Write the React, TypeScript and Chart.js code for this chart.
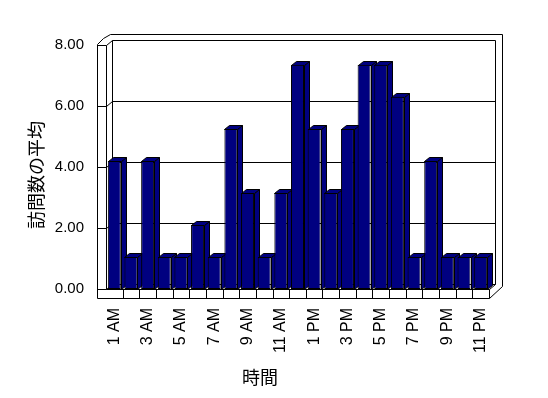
import React, { useEffect, useRef } from 'react';
import { Chart, registerables } from 'chart.js';

Chart.register(...registerables);

const hours = [
  '1 AM', '2 AM', '3 AM', '4 AM', '5 AM', '6 AM', '7 AM', '8 AM', '9 AM', '10 AM', '11 AM',
  '12 PM', '1 PM', '2 PM', '3 PM', '4 PM', '5 PM', '6 PM', '7 PM', '8 PM', '9 PM', '10 PM', '11 PM',
];
const avgVisits = [
  4.2, 1.05, 4.2, 1.05, 1.05, 2.1, 1.05, 5.25, 3.15, 1.05, 3.15,
  7.35, 5.25, 3.15, 5.25, 7.35, 7.35, 6.3, 1.05, 4.2, 1.05, 1.05, 1.05,
];
const yTicks = [0, 2, 4, 6, 8];
const yTitle = '訪問数の平均';
const xTitle = '時間';

const NAVY = '#000080';

const frame3d = {
  id: 'frame3d',
  beforeDatasetsDraw(chart: any) {
    const { ctx, chartArea: a, scales } = chart;
    const ys = scales.y;
    const L = Math.round(a.left), R = Math.round(a.right), T = Math.round(a.top), B = Math.round(a.bottom);
    const dx = 6, dy = -5; // wall depth
    const ox = 7; // back wall thickness
    const lw = 9; // left wall thickness
    const fh = 9; // floor thickness
    ctx.save();
    ctx.strokeStyle = '#000';
    ctx.lineWidth = 1;
    const line = (pts: number[][]) => {
      ctx.beginPath();
      pts.forEach(([px, py], i) => (i ? ctx.lineTo(px + 0.5, py + 0.5) : ctx.moveTo(px + 0.5, py + 0.5)));
      ctx.stroke();
    };
    for (const v of yTicks) {
      const py = Math.round(ys.getPixelForValue(v));
      line([[L - lw, py], [L, py], [L + dx, py + dy], [R + dx, py + dy]]);
    }
    line([[L - lw, B + fh], [L - lw, T - 1], [L - lw + 6, T - 7], [L + 4, T - 11], [R + dx + ox, T - 11], [R + dx + ox, B + dy + 2], [R, B + fh]]);
    line([[L, T], [L, B]]);
    line([[L + dx, T + dy], [L + dx, B + dy]]);
    line([[R + dx, T + dy], [R + dx, B + dy]]);
    line([[L - lw, B + fh], [R, B + fh]]);
    line([[L, B], [R, B], [R, B + fh]]);
    line([[R, B], [R + dx, B + dy]]);
    const n = hours.length;
    const cw = (R - L) / n;
    for (let i = 1; i < n; i++) {
      const px = Math.round(L + i * cw);
      line([[px, B], [px, B + fh]]);
    }
    const bx = 5, by = -4;
    const meta = chart.getDatasetMeta(0);
    meta.data.forEach((el: any) => {
      const left = Math.round(el.x - el.width / 2);
      const right = Math.round(el.x + el.width / 2);
      const top = Math.round(el.y);
      const base = Math.round(el.base);
      ctx.fillStyle = NAVY;
      const poly = (pts: number[][]) => {
        ctx.beginPath();
        pts.forEach(([px, py], i) => (i ? ctx.lineTo(px + 0.5, py + 0.5) : ctx.moveTo(px + 0.5, py + 0.5)));
        ctx.closePath();
        ctx.fill();
        ctx.stroke();
      };
      poly([[right, top], [right + bx, top + by], [right + bx, base + by], [right, base]]);
      poly([[left, top], [left + bx, top + by], [right + bx, top + by], [right, top]]);
    });
    ctx.restore();
  },
  afterDraw(chart: any) {
    const { ctx } = chart;
    ctx.save();
    ctx.fillStyle = '#000';
    ctx.font = '18px "Noto Sans CJK JP"';
    ctx.textAlign = 'center';
    ctx.textBaseline = 'middle';
    ctx.fillText(xTitle, 260, 377);
    ctx.translate(36, 175);
    ctx.rotate(-Math.PI / 2);
    ctx.fillText(yTitle, 0, 0);
    ctx.restore();
  },
};

export default function App() {
  const ref = useRef<HTMLCanvasElement>(null);
  useEffect(() => {
    document.body.style.margin = '0';
    const chart = new Chart(ref.current as HTMLCanvasElement, {
      type: 'bar',
      data: {
        labels: hours,
        datasets: [
          {
            data: avgVisits,
            backgroundColor: NAVY,
            borderColor: '#000',
            borderWidth: 1,
            borderSkipped: false,
            barPercentage: 0.78,
            categoryPercentage: 1,
          },
        ],
      },
      options: {
        responsive: false,
        animation: false,
        layout: { padding: { left: 0, right: 59, top: 45, bottom: 0 } },
        plugins: { legend: { display: false }, tooltip: { enabled: false } },
        scales: {
          x: {
            grid: { display: false },
            border: { display: false },
            afterFit: (s: any) => { s.height = 109; },
            ticks: {
              autoSkip: false,
              maxRotation: 90,
              minRotation: 90,
              padding: 11,
              labelOffset: 0,
              color: '#000',
              font: { family: '"Liberation Sans", Arial, sans-serif', size: 16 },
              callback: (_v: any, i: number) => (i % 2 === 0 ? hours[i] : ''),
            },
          },
          y: {
            min: 0,
            max: 8,
            grid: { display: false },
            border: { display: false },
            afterFit: (s: any) => { s.width = 106; },
            afterBuildTicks: (s: any) => { s.ticks = yTicks.map((v) => ({ value: v })); },
            ticks: {
              padding: 14,
              color: '#000',
              font: { family: '"Liberation Sans", Arial, sans-serif', size: 15 },
              callback: (v: any) => Number(v).toFixed(2),
            },
          },
        },
      },
      plugins: [frame3d],
    });
    return () => chart.destroy();
  }, []);
  return (
    <div style={{ width: 548, height: 398 }}>
      <canvas ref={ref} width={548} height={398} />
    </div>
  );
}
